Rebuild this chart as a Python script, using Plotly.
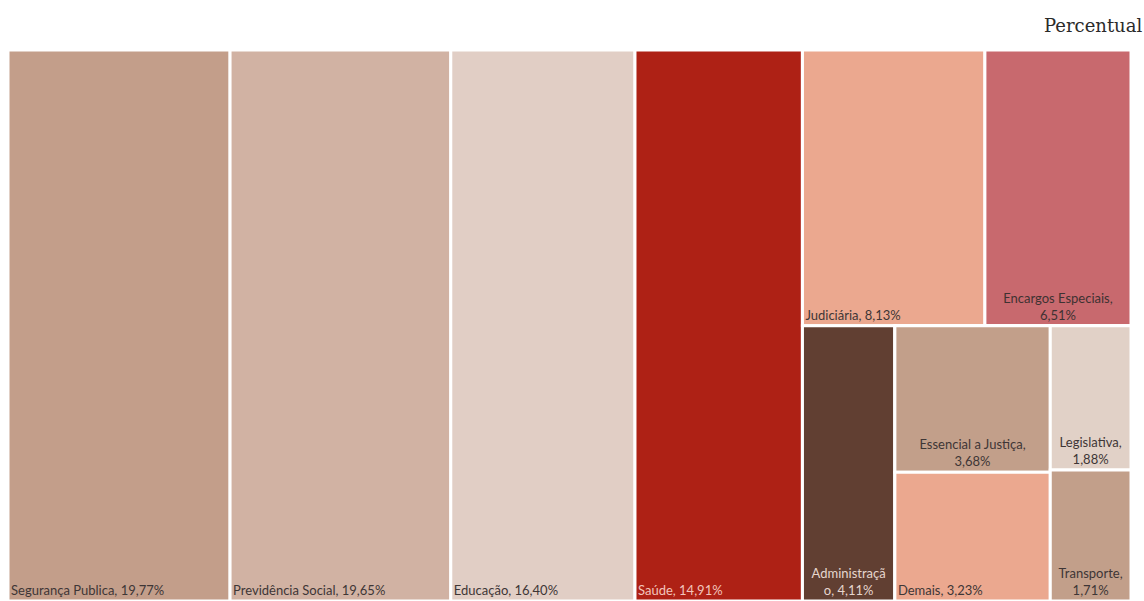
import plotly.graph_objects as go

# ---- data ----
ids = ["Total", "Seg", "Prev", "Edu", "Saude", "Resto",
       "Topo", "Base", "Jud", "Enc", "Adm", "Col2", "Col3",
       "Ess", "Dem", "Leg", "Tra"]
parents = ["", "Total", "Total", "Total", "Total", "Total",
           "Resto", "Resto", "Topo", "Topo", "Base", "Base", "Base",
           "Col2", "Col2", "Col3", "Col3"]
labels = ["Total", "Segurança Publica", "Previdência Social", "Educação", "Saúde", "",
          "", "", "Judiciária", "Encargos Especiais", "Administração", "", "",
          "Essencial a Justiça", "Demais", "Legislativa", "Transporte"]
values = [0, 19.77, 19.65, 16.40, 14.91, 0,
          0, 0, 8.13, 6.51, 4.11, 0, 0,
          3.68, 3.23, 1.88, 1.71]
# how each label is shown in its tile (line breaks as in the original)
display = ["", "Segurança Publica, {v}", "Previdência Social, {v}", "Educação, {v}", "Saúde, {v}", "",
           "", "", "Judiciária, {v}", "Encargos Especiais,<br>{v}", "Administraçã<br>o, {v}", "", "",
           "Essencial a Justiça,<br>{v}", "Demais, {v}", "Legislativa,<br>{v}", "Transporte,<br>{v}"]
colors = ["#ffffff", "#C39E8A", "#D1B2A3", "#E1CEC5", "#AE2115", "#ffffff",
          "#ffffff", "#ffffff", "#EBA88F", "#C8696E", "#613F32", "#ffffff", "#ffffff",
          "#C29F8A", "#EBA88F", "#E1D1C7", "#C29F8A"]
text_colors = ["#3a3a3a", "#3e3636", "#3e3636", "#3e3636", "#F2C4BC", "#3a3a3a",
               "#3a3a3a", "#3a3a3a", "#3e3636", "#3e3232", "#E6D6CE", "#3a3a3a", "#3a3a3a",
               "#3e3636", "#3e3636", "#3e3636", "#3e3636"]


def fmt(v):
    return f"{v:.2f}".replace(".", ",") + "%"


texts = [d.format(v=fmt(v)) if d else "" for d, v in zip(display, values)]
wrapped = ["<br>" in d for d in display]
texts_left = [t if not w else "" for t, w in zip(texts, wrapped)]
texts_center = [t if w else "" for t, w in zip(texts, wrapped)]

FONT = "Lato, Roboto, sans-serif"
common = dict(ids=ids, parents=parents, labels=labels, values=values,
              branchvalues="remainder", sort=False, textinfo="text",
              tiling=dict(packing="slice-dice", pad=0),
              pathbar=dict(visible=False), hoverinfo="skip")

fig = go.Figure()
fig.add_trace(go.Treemap(
    text=texts_left,
    textposition="bottom left",
    marker=dict(colors=colors, line=dict(color="#ffffff", width=3),
                pad=dict(t=0, l=0, r=0, b=0), depthfade=False),
    textfont=dict(family=FONT, size=13, color=text_colors),
    **common,
))
# labels that wrap onto two lines are centred, as in the original
fig.add_trace(go.Treemap(
    text=texts_center,
    textposition="bottom center",
    marker=dict(colors=["rgba(0,0,0,0)"] * len(ids), line=dict(width=0),
                pad=dict(t=0, l=0, r=0, b=0), depthfade=False),
    textfont=dict(family=FONT, size=13, color=text_colors),
    **common,
))

fig.add_annotation(text="Percentual", xref="paper", yref="paper", x=1.012, y=1,
                   xanchor="right", yanchor="bottom", yshift=12, showarrow=False,
                   font=dict(family="DejaVu Serif, Liberation Serif, serif", size=18, color="#2a2a2a"))

fig.update_layout(
    width=1144, height=601,
    margin=dict(l=8, r=13, t=50, b=0),
    paper_bgcolor="#ffffff",
    plot_bgcolor="#ffffff",
)

fig.write_html("out.html")
